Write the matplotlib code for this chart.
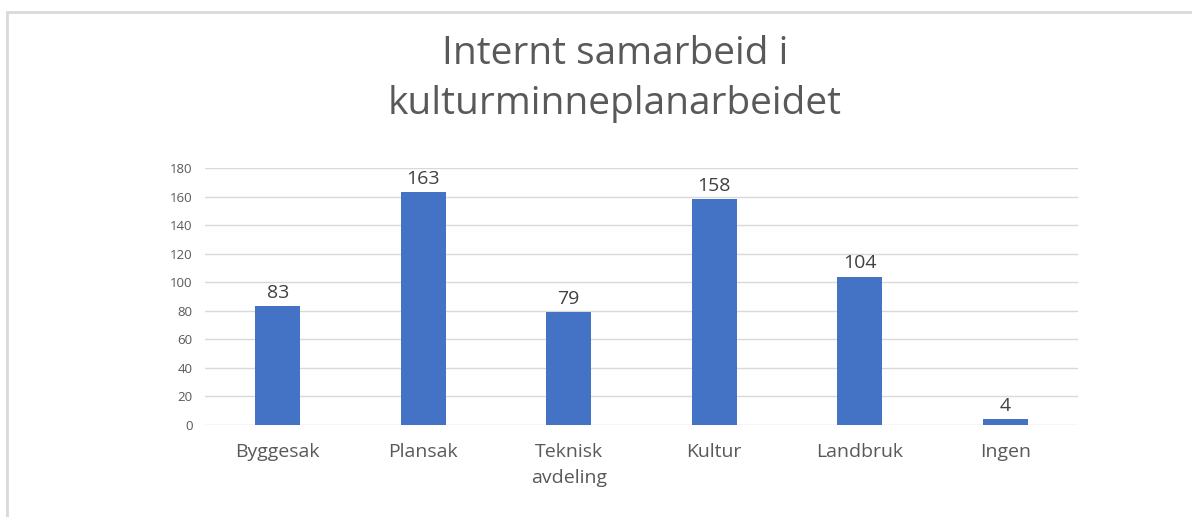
import matplotlib.pyplot as plt
from matplotlib.patches import Rectangle

categories = ['Byggesak', 'Plansak', 'Teknisk\navdeling', 'Kultur', 'Landbruk', 'Ingen']
values = [83, 163, 79, 158, 104, 4]
yticks = [0, 20, 40, 60, 80, 100, 120, 140, 160, 180]

plt.rcParams['font.family'] = ['Open Sans', 'DejaVu Sans']
txt = '#595959'

fig = plt.figure(figsize=(11.92, 5.17), dpi=100)
# light frame round the chart area
fig.patches.append(Rectangle((7 / 1192, -0.1), 1.2, 1 - 12 / 517 + 0.1, transform=fig.transFigure,
                             fill=False, edgecolor='#d9d9d9', linewidth=2))

ax = fig.add_axes([205 / 1192, 1 - 425 / 517, 873 / 1192, 257 / 517])
x = range(len(categories))
bars = ax.bar(x, values, width=0.31, color='#4472C4', zorder=3)
for b, v in zip(bars, values):
    ax.text(b.get_x() + b.get_width() / 2, v + 3, str(v), ha='center', va='bottom',
            fontsize=14, color='#404040')

ax.set_xlim(-0.5, len(categories) - 0.5)
ax.set_ylim(0, 180)
ax.set_yticks(yticks)
ax.set_xticks(list(x))
ax.set_xticklabels(categories, fontsize=14, color=txt, linespacing=1.6)
ax.tick_params(axis='y', labelsize=9.5, labelcolor=txt, length=0, pad=9)
ax.tick_params(axis='x', length=0, pad=13)
ax.grid(axis='y', color='#d9d9d9', linewidth=1, zorder=0)
for s in ax.spines.values():
    s.set_visible(False)

fig.text(615 / 1192, 1 - 79 / 517, 'Internt samarbeid i\nkulturminneplanarbeidet',
         ha='center', va='center', fontsize=28, color=txt, linespacing=1.4)

fig.savefig('out.png', dpi=100)
